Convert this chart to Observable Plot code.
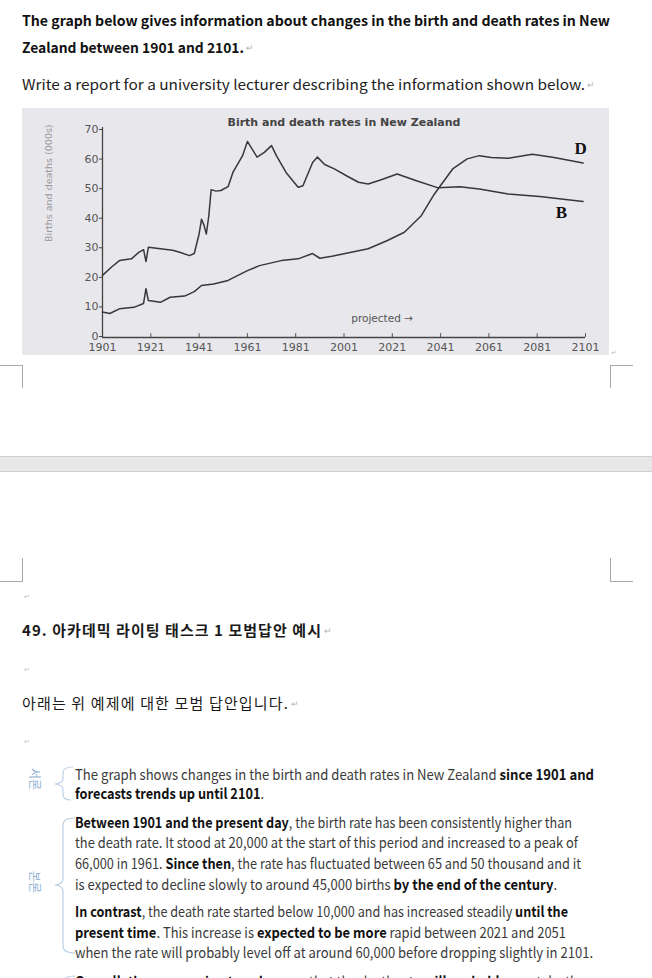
<!DOCTYPE html>
<html><head><meta charset="utf-8">
<script src="https://cdn.jsdelivr.net/npm/d3@7"></script>
<script src="https://cdn.jsdelivr.net/npm/@observablehq/plot@0.6"></script>
<style>
html,body{margin:0;padding:0;background:#fff;width:652px;height:978px;overflow:hidden;}
body{position:relative;font-family:"Noto Sans CJK KR","Noto Sans",sans-serif;color:#1a1a1a;}
.ln{position:absolute;white-space:nowrap;line-height:20px;}
.t{display:inline-block;transform-origin:0 50%;}
.q{font-size:14px;font-weight:700;color:#111;left:22px;}
.qn{font-size:14px;font-weight:400;color:#222;left:22px;}
.ko{font-size:15px;color:#1a1a1a;left:22px;}
.p{font-size:14.5px;color:#3a3a3a;left:75px;}
.p b{color:#111;font-weight:700;}
.pm{position:absolute;color:#b5b5b5;font-size:9px;font-weight:400;}
.dot{position:absolute;left:24px;color:#c0c0c0;font-size:7px;line-height:8px;}
.cm{position:absolute;background:#a8a8a8;}
.band{position:absolute;left:0;width:652px;top:456px;height:14px;background:#e7e7e7;border-top:1px solid #cfcfcf;border-bottom:1px solid #cfcfcf;}
.side{position:absolute;writing-mode:vertical-rl;text-orientation:sideways;color:#8fb2d6;font-size:12px;line-height:14px;}
#chart{position:absolute;left:22px;top:108px;}
svg.br{position:absolute;left:0;top:0;}
</style></head>
<body>
<div class="ln q" style="top:10px" data-w="588"><span class="t">The graph below gives information about changes in the birth and death rates in New</span></div>
<div class="ln q" style="top:37px" data-w="222"><span class="t">Zealand between 1901 and 2101.</span><span class="pm">↵</span></div>
<div class="ln qn" style="top:74px" data-w="563"><span class="t">Write a report for a university lecturer describing the information shown below.</span><span class="pm">↵</span></div>

<div id="chart"></div>
<div class="dot" style="left:611px;top:348px">↵</div>

<div class="cm" style="left:0;top:365px;width:22px;height:1px"></div>
<div class="cm" style="left:22px;top:365px;width:1px;height:23px"></div>
<div class="cm" style="left:610px;top:365px;width:23px;height:1px"></div>
<div class="cm" style="left:610px;top:365px;width:1px;height:23px"></div>
<div class="band"></div>
<div class="cm" style="left:22px;top:558px;width:1px;height:23px"></div>
<div class="cm" style="left:0;top:581px;width:23px;height:1px"></div>
<div class="cm" style="left:610px;top:558px;width:1px;height:23px"></div>
<div class="cm" style="left:610px;top:581px;width:23px;height:1px"></div>

<div class="dot" style="top:592px">↵</div>
<div class="ln ko" style="top:620px;font-weight:700" data-w="300" data-mode="ls"><span class="t">49. 아카데믹 라이팅 태스크 1 모범답안 예시</span><span class="pm">↵</span></div>
<div class="dot" style="top:665px">↵</div>
<div class="ln ko" style="top:693px" data-w="267" data-mode="ls"><span class="t">아래는 위 예제에 대한 모범 답안입니다.</span><span class="pm">↵</span></div>
<div class="dot" style="top:737px">↵</div>

<svg class="br" width="652" height="978">
  <g fill="none" stroke="#bcd0e4" stroke-width="1.2">
    <path d="M73,767 Q63,767 63,773 L63,779 Q63,783 55,784 Q63,785 63,789 L63,795 Q63,800 71,800"/>
    <path d="M75,818 Q63,818 63,825 L63,879 Q63,884 55,885 Q63,886 63,891 L63,946 Q63,953 75,953"/>
    <path d="M75,976 Q63,976 63,983"/>
  </g>
</svg>
<div class="side" style="left:28px;top:768px">서론</div>
<div class="side" style="left:28px;top:871px">본론</div>

<div class="ln p" style="top:764px" data-w="519"><span class="t">The graph shows changes in the birth and death rates in New Zealand <b>since 1901 and</b></span></div>
<div class="ln p" style="top:783px" data-w="189"><span class="t"><b>forecasts trends up until 2101</b>.</span></div>
<div class="ln p" style="top:812px" data-w="497"><span class="t"><b>Between 1901 and the present day</b>, the birth rate has been consistently higher than</span></div>
<div class="ln p" style="top:832px" data-w="503"><span class="t">the death rate. It stood at 20,000 at the start of this period and increased to a peak of</span></div>
<div class="ln p" style="top:853px" data-w="506"><span class="t">66,000 in 1961. <b>Since then</b>, the rate has fluctuated between 65 and 50 thousand and it</span></div>
<div class="ln p" style="top:874px" data-w="482"><span class="t">is expected to decline slowly to around 45,000 births <b>by the end of the century</b>.</span></div>
<div class="ln p" style="top:901px" data-w="493"><span class="t"><b>In contrast</b>, the death rate started below 10,000 and has increased steadily <b>until the</b></span></div>
<div class="ln p" style="top:922px" data-w="491"><span class="t"><b>present time</b>. This increase is <b>expected to be more</b> rapid between 2021 and 2051</span></div>
<div class="ln p" style="top:942px" data-w="518"><span class="t">when the rate will probably level off at around 60,000 before dropping slightly in 2101.</span></div>
<div class="ln p" style="top:971px" data-w="510"><span class="t"><b>Overall, these opposing trends</b> mean that the death rate <b>will probably</b> overtake the</span></div>

<script>
// ---- chart data (values in thousands) ----
const birthYears  = [1901,1905,1908,1913,1916,1918,1919,1920,1925,1930,1933,1937,1939,1941,1942,1943,1944,1945,1946,1948,1950,1953,1955,1959,1961,1965,1968,1971,1973,1977,1982,1984,1988,1990,1993,1997,2002,2007,2011,2017,2023,2031,2040,2049,2057,2069,2082,2100];
const birthValues = [21,24,26,26.6,28.8,29.7,25.7,30.5,30,29.5,28.8,27.7,28.4,35,40,38,35,41,50,49.5,49.7,51,55.8,61.5,66.3,61,62.6,64.9,61.5,55.8,50.8,51.3,59.2,61,58.5,57,54.7,52.5,51.9,53.5,55.3,53,50.6,51,50.2,48.5,47.7,46];
const deathYears  = [1901,1904,1908,1914,1918,1919,1920,1925,1929,1935,1939,1942,1947,1953,1961,1966,1975,1982,1988,1991,1996,2001,2011,2019,2026,2033,2038,2041,2046,2052,2057,2062,2069,2079,2088,2100];
const deathValues = [8.6,8.1,9.7,10.2,11.5,16.5,12.5,11.9,13.6,14,15.5,17.6,18.1,19.3,22.6,24.3,26,26.6,28.4,26.8,27.5,28.3,30,32.8,35.6,41.2,48,51.4,57,60.4,61.5,60.9,60.6,62,60.9,59];
const xTicks = [1901,1921,1941,1961,1981,2001,2021,2041,2061,2081,2101];
const yTicks = [0,10,20,30,40,50,60,70];
const seriesLabels = ["D","B"];
const seriesLabelYears = [2099,2091];
const seriesLabelValues = [63.8,42.3];
const chartTitle = "Birth and death rates in New Zealand";
const yAxisLabel = "Births and deaths (000s)";
const noteText = ["projected →"];
const noteYear = [2004];
const noteValue = [6.4];

const birth = birthYears.map((y,i)=>({year:y,value:birthValues[i]}));
const death = deathYears.map((y,i)=>({year:y,value:deathValues[i]}));
const labels = seriesLabels.map((t,i)=>({text:t,year:seriesLabelYears[i],value:seriesLabelValues[i]}));
const notes = noteText.map((t,i)=>({text:t,year:noteYear[i],value:noteValue[i]}));

const chart = Plot.plot({
  width:587, height:247,
  marginLeft:80, marginRight:24, marginTop:22, marginBottom:18,
  style:{background:"#e8e7ec", fontFamily:"DejaVu Sans", fontSize:"11px", color:"#555", overflow:"visible"},
  x:{domain:[1901,2101]},
  y:{domain:[0,70]},
  marks:[
    Plot.axisX({ticks:xTicks, tickSize:0, tickPadding:6, tickFormat:d=>String(d), label:null, fill:"#555"}),
    Plot.axisY({ticks:yTicks, tickSize:3, tickPadding:1, dy:-1, label:null, fill:"#555", stroke:"#444"}),
    Plot.ruleX(xTicks.slice(1), {x:d=>d, y1:0, y2:1.3, stroke:"#555"}),
    Plot.ruleY([0], {x1:1901, x2:2101, stroke:"#444", strokeWidth:1.3}),
    Plot.ruleX([1901], {y1:0, y2:71, stroke:"#444", strokeWidth:1.3}),
    Plot.line(birth, {x:"year", y:"value", stroke:"#383838", strokeWidth:1.5}),
    Plot.line(death, {x:"year", y:"value", stroke:"#383838", strokeWidth:1.5}),
    Plot.text([chartTitle], {text:d=>d, frameAnchor:"top", dy:-8, lineAnchor:"middle", fontWeight:"bold", fontSize:11, fill:"#444"}),
    Plot.text([yAxisLabel], {text:d=>d, frameAnchor:"left", dx:-54, dy:8, rotate:-90, fontSize:9.5, fill:"#9a9a9a"}),
    Plot.text(labels, {x:"year", y:"value", text:"text", fontFamily:"Liberation Serif", fontWeight:"bold", fontSize:17, fill:"#111"}),
    Plot.text(notes, {x:"year", y:"value", text:"text", textAnchor:"start", fontSize:10.5, fill:"#555"})
  ]
});
document.getElementById("chart").appendChild(chart);

function fit(){
  document.querySelectorAll('[data-w]').forEach(el=>{
    const span = el.querySelector('.t');
    const pm = el.querySelector('.pm');
    const target = +el.dataset.w;
    span.style.letterSpacing = '0px';
    span.style.transform = 'none';
    const w = span.getBoundingClientRect().width;
    if (el.dataset.mode === 'ls') {
      span.style.letterSpacing = ((target - w)/span.textContent.length) + 'px';
    } else {
      span.style.transform = 'scaleX(' + (target / w) + ')';
    }
    if (pm) { pm.style.left = (target + 2) + 'px'; pm.style.top = '1px'; }
  });
}
fit();
if (document.fonts && document.fonts.ready) document.fonts.ready.then(fit);
</script>
</body></html>
